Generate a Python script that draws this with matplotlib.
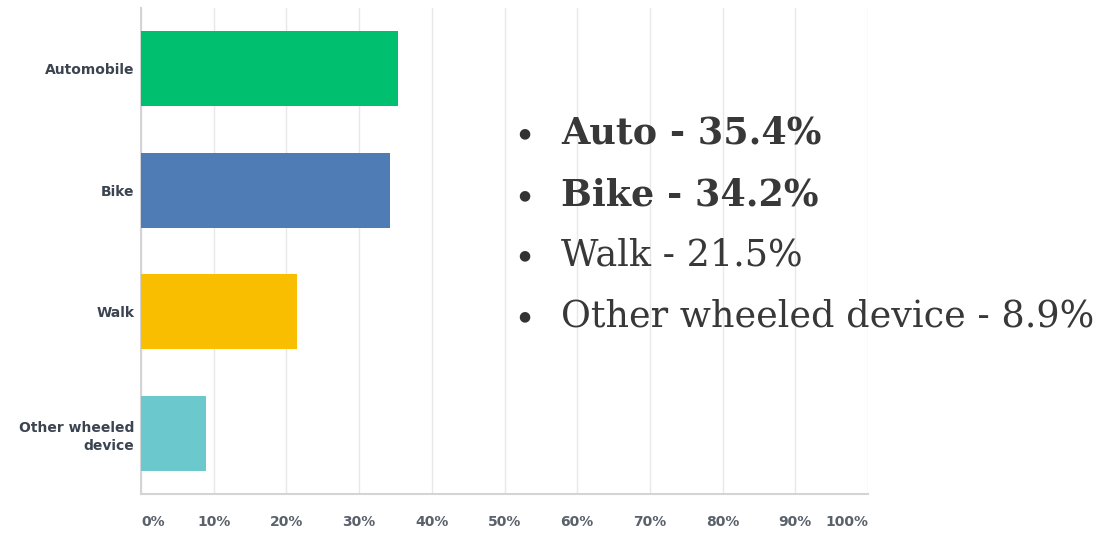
import matplotlib.pyplot as plt

categories = ["Automobile", "Bike", "Walk", "Other wheeled\ndevice"]
values = [35.4, 34.2, 21.5, 8.9]
colors = ["#00bf6f", "#507cb6", "#f9be00", "#6bc8cd"]
tick_values = [0, 10, 20, 30, 40, 50, 60, 70, 80, 90, 100]
tick_labels = ["0%", "10%", "20%", "30%", "40%", "50%", "60%", "70%", "80%", "90%", "100%"]

notes = ["Auto - 35.4%", "Bike - 34.2%", "Walk - 21.5%", "Other wheeled device - 8.9%"]
notes_bold = [True, True, False, False]

fig = plt.figure(figsize=(11.07, 5.33), dpi=100)
ax = fig.add_axes([0.1274, 0.0732, 0.6567, 0.9118])

# Bars
ax.barh(range(len(categories)), values, height=0.62, color=colors, zorder=3)
ax.set_ylim(3.5, -0.5)
ax.set_xlim(0, 100)

# Grid and spines
ax.set_xticks(tick_values)
ax.grid(axis="x", color="#e8e8e8", linewidth=1, zorder=0)
for side in ["top", "right"]:
    ax.spines[side].set_visible(False)
ax.spines["left"].set_color("#d4d4d4")
ax.spines["bottom"].set_color("#d4d4d4")
ax.spines["left"].set_linewidth(1.5)
ax.spines["bottom"].set_linewidth(1.5)

# Tick labels
ax.tick_params(axis="both", length=0)
ax.set_xticklabels(tick_labels, fontsize=10, fontweight="bold", color="#59616b",
                   family="DejaVu Sans")
ax.tick_params(axis="x", pad=15)
xl = ax.get_xticklabels()
xl[0].set_ha("left")
xl[-1].set_ha("right")
ax.set_yticks(range(len(categories)))
ax.set_yticklabels(categories, fontsize=10, fontweight="bold", color="#3b4450",
                   family="DejaVu Sans", linespacing=1.4)
ax.tick_params(axis="y", pad=5)

# Bullet list overlay
y_pos = [0.75, 0.634, 0.521, 0.407]
for txt, bold, y in zip(notes, notes_bold, y_pos):
    fig.text(0.4735, y, "\u25cf", fontsize=10, color="#333333", va="center",
             ha="center", family="DejaVu Sans")
    fig.text(0.507, y, txt, fontsize=26.3, color="#383838", va="center",
             family="DejaVu Serif", fontweight="bold" if bold else "normal")

fig.savefig("out.png", dpi=100)
